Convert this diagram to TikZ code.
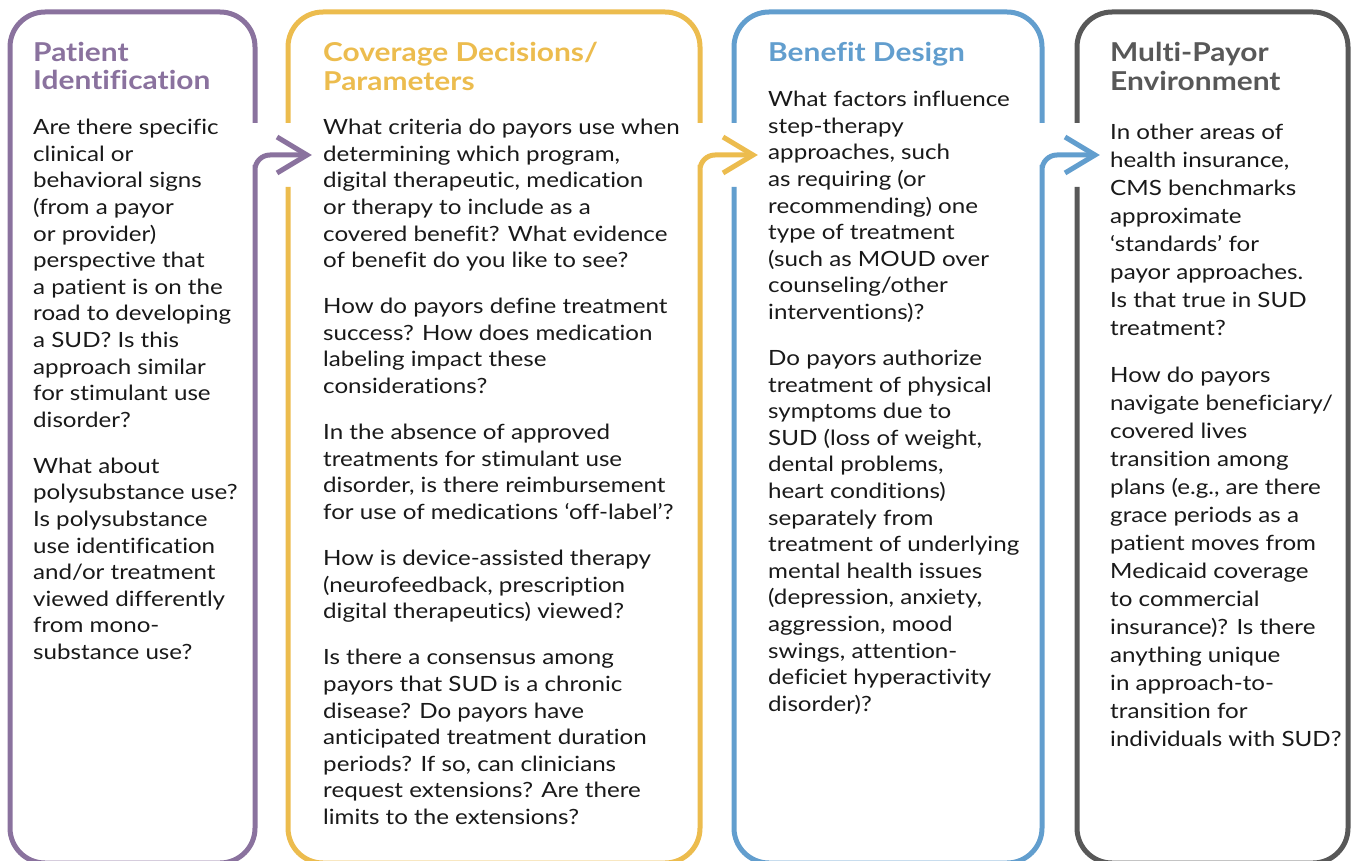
\documentclass[tikz,border=0pt]{standalone}
\usepackage{fontspec}
\setmainfont[FakeStretch=1.15, Ligatures=NoCommon]{Lato}
\setsansfont[FakeStretch=1.15, Ligatures=NoCommon]{Lato}
\definecolor{sudpurple}{RGB}{138,114,158}
\definecolor{sudyellow}{RGB}{236,188,78}
\definecolor{sudblue}{RGB}{98,158,206}
\definecolor{sudgray}{RGB}{88,88,88}
\tikzset{every picture/.style={/utils/exec={\sffamily}}}
\tikzset{
  panel/.style={line width=5pt, line join=miter, line cap=butt},
  headtext/.style={anchor=north west, inner sep=0pt, align=left,
    font=\fontsize{26}{28.5}\selectfont\bfseries},
  bodytext/.style={anchor=north west, inner sep=0pt, align=left,
    font=\fontsize{21}{26.6}\selectfont, text=black!90},
}

\begin{document}
\begin{tikzpicture}[x=1pt, y=-1pt]
  \useasboundingbox (0,0) rectangle (1351,861);

  % Patient identification:
  \coordinate (tipa) at (307,155);
  \draw [panel, sudpurple, rounded corners=35pt] (255,123) |- (10,12) |- (255,863) -- (255,200)
    [rounded corners=15pt] -- (255,155) -- (tipa);
  \draw [panel, sudpurple] (tipa) ++(-30,-18) -- (tipa) -- ++(-30,18);

  % Coverage decisions:
  \coordinate (tipb) at (753,155);
  \draw [panel, sudyellow, rounded corners=35pt] (700,123) |- (288,12) -- (288,123);
  \draw [panel, sudyellow, rounded corners=35pt] (288,187) |- (700,863) -- (700,200)
    [rounded corners=15pt] -- (700,155) -- (tipb);
  \draw [panel, sudyellow] (tipb) ++(-30,-18) -- (tipb) -- ++(-30,18);

  % Benefit design:
  \coordinate (tipc) at (1095,155);
  \draw [panel, sudblue, rounded corners=35pt] (1042,123) |- (734,12) -- (734,123);
  \draw [panel, sudblue, rounded corners=35pt] (734,187) |- (1042,863) -- (1042,200)
    [rounded corners=15pt] -- (1042,155) -- (tipc);
  \draw [panel, sudblue] (tipc) ++(-30,-18) -- (tipc) -- ++(-30,18);

  % Multi-payor environment:
  \draw [panel, sudgray, rounded corners=35pt] (1077,123) |- (1348,12) |- (1077,863) -- (1077,187);

  \node [headtext, text=sudpurple] (heada) at (33,42) {Patient\\Identification};
  \node [headtext, text=sudyellow] (headb) at (323,42) {Coverage Decisions/\\Parameters};
  \node [headtext, text=sudblue] (headc) at (768,42) {Benefit Design};
  \node [headtext, text=sudgray] (headd) at (1110,42) {Multi-Payor\\Environment};

  \node [bodytext] (bodya) at (33,119) {Are there specific\\clinical or\\behavioral signs\\(from a payor\\or provider)\\perspective that\\a patient is on the\\road to developing\\a SUD? Is this\\approach similar\\for stimulant use\\disorder?\\[19.5pt]
    What about\\polysubstance use?\\Is polysubstance\\use identification\\and/or treatment\\viewed differently\\from mono-\\substance use?};

  \node [bodytext] (bodyb) at (323,119) {What criteria do payors use when\\determining which program,\\digital therapeutic, medication\\or therapy to include as a\\covered benefit? What evidence\\of benefit do you like to see?\\[19.5pt]
    How do payors define treatment\\success? How does medication\\labeling impact these\\considerations?\\[19.5pt]
    In the absence of approved\\treatments for stimulant use\\disorder, is there reimbursement\\for use of medications ‘off-label’?\\[19.5pt]
    How is device-assisted therapy\\(neurofeedback, prescription\\digital therapeutics) viewed?\\[19.5pt]
    Is there a consensus among\\payors that SUD is a chronic\\disease? Do payors have\\anticipated treatment duration\\periods? If so, can clinicians\\request extensions? Are there\\limits to the extensions?};

  \node [bodytext] (bodyc) at (768,91) {What factors influence\\step-therapy\\approaches, such\\as requiring (or\\recommending) one\\type of treatment\\(such as MOUD over\\counseling/other\\interventions)?\\[19.5pt]
    Do payors authorize\\treatment of physical\\symptoms due to\\SUD (loss of weight,\\dental problems,\\heart conditions)\\separately from\\treatment of underlying\\mental health issues\\(depression, anxiety,\\aggression, mood\\swings, attention-\\deficiet hyperactivity\\disorder)?};

  \node [bodytext, font=\fontsize{21}{28}\selectfont] (bodyd) at (1110,124) {In other areas of\\health insurance,\\CMS benchmarks\\approximate\\‘standards’ for\\payor approaches.\\Is that true in SUD\\treatment?\\[19pt]
    How do payors\\navigate beneficiary/\\covered lives\\transition among\\plans (e.g., are there\\grace periods as a\\patient moves from\\Medicaid coverage\\to commercial\\insurance)? Is there\\anything unique\\in approach-to-\\transition for\\individuals with SUD?};

\end{tikzpicture}
\end{document}
